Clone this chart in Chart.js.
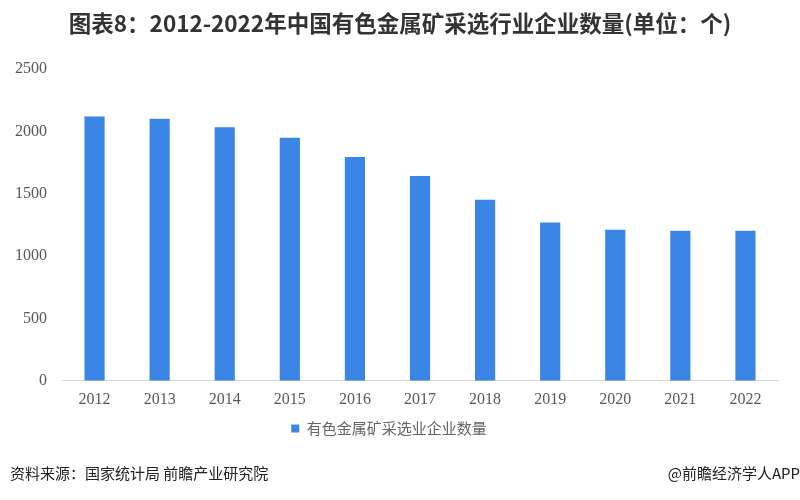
<!DOCTYPE html>
<html>
<head>
<meta charset="utf-8">
<script src="https://cdn.jsdelivr.net/npm/chart.js@4/dist/chart.umd.min.js"></script>
<style>
  html, body { margin: 0; padding: 0; background: #fff; }
  #wrap { position: relative; width: 800px; height: 500px; }
  .title { position: absolute; left: 0; width: 800px; top: 8px; text-align: center; font-family: "Noto Sans CJK SC", sans-serif; font-size: 22.5px; font-weight: bold; color: #333; line-height: 28px; }
  .foot { position: absolute; top: 462px; font-family: "Noto Sans CJK SC", sans-serif; font-size: 15px; color: #222; }
</style>
</head>
<body>
<div id="wrap">
  <canvas id="minesChart" width="800" height="500"></canvas>
  <div class="title" id="chartTitle"></div>
  <div class="foot" style="left:10px;">资料来源：国家统计局 前瞻产业研究院</div>
  <div class="foot" style="right:0px;">@前瞻经济学人APP</div>
</div>
<script>
// years and enterprise counts
const years = ['2012', '2013', '2014', '2015', '2016', '2017', '2018', '2019', '2020', '2021', '2022'];
const enterpriseCounts = [2120, 2102, 2033, 1948, 1794, 1643, 1451, 1270, 1212, 1204, 1204];
const yTicks = [0, 500, 1000, 1500, 2000, 2500];
const seriesName = '有色金属矿采选业企业数量';
const chartTitle = '图表8：2012-2022年中国有色金属矿采选行业企业数量(单位：个)';

document.getElementById('chartTitle').textContent = chartTitle;

const ctx = document.getElementById('minesChart').getContext('2d');
new Chart(ctx, {
  type: 'bar',
  data: {
    labels: years,
    datasets: [{
      label: seriesName,
      data: enterpriseCounts,
      backgroundColor: '#3a85e6',
      barPercentage: 0.31,
      categoryPercentage: 1.0
    }]
  },
  options: {
    responsive: false,
    animation: false,
    layout: { padding: { top: 69, left: 0, right: 22, bottom: 54 } },
    plugins: {
      title: { display: false },
      legend: {
        position: 'bottom',
        labels: {
          color: '#666',
          font: { family: '"Noto Sans CJK SC", sans-serif', size: 15 },
          boxWidth: 8,
          boxHeight: 8,
          padding: 3
        }
      },
      tooltip: { enabled: false }
    },
    scales: {
      x: {
        grid: { display: false, drawTicks: false },
        border: { display: true, color: '#d9d9d9' },
        ticks: {
          color: '#595959',
          padding: 9,
          font: { family: '"Liberation Serif", serif', size: 16 }
        }
      },
      y: {
        min: 0,
        max: 2500,
        afterBuildTicks: axis => { axis.ticks = yTicks.map(v => ({ value: v })); },
        grid: { display: false, drawTicks: false },
        border: { display: false },
        ticks: {
          color: '#595959',
          padding: 15,
          callback: v => String(v),
          font: { family: '"Liberation Serif", serif', size: 16 }
        }
      }
    }
  }
});
</script>
</body>
</html>
